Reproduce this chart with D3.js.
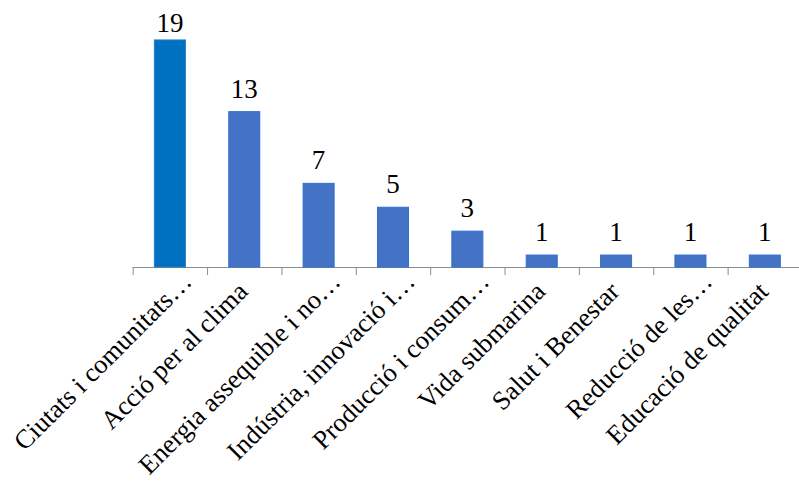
<!DOCTYPE html>
<html>
<head>
<meta charset="utf-8">
<script src="https://cdn.jsdelivr.net/npm/d3@7"></script>
</head>
<body style="margin:0">
<svg id="chart" width="799" height="483"></svg>
<script>
const categories = [
  "Ciutats i comunitats…",
  "Acció per al clima",
  "Energia assequible i no…",
  "Indústria, innovació i…",
  "Producció i consum…",
  "Vida submarina",
  "Salut i Benestar",
  "Reducció de les…",
  "Educació de qualitat"
];
const values = [19, 13, 7, 5, 3, 1, 1, 1, 1];
const barColors = ["#0070C0", "#4472C4", "#4472C4", "#4472C4", "#4472C4", "#4472C4", "#4472C4", "#4472C4", "#4472C4"];
const strokeColors = ["#1A7FCC", "#2F6FD6", "#2F6FD6", "#2F6FD6", "#2F6FD6", "#2F6FD6", "#2F6FD6", "#2F6FD6", "#2F6FD6"];
const yMax = 20;

const svg = d3.select("#chart");

const x0 = 132.7, x1 = 802, yBase = 267, yTop = 28;

const x = d3.scaleBand()
  .domain(categories)
  .range([x0, x1])
  .paddingInner(0.583)
  .paddingOuter(0.2915);

const y = d3.scaleLinear().domain([0, yMax]).range([yBase, yTop]);

const xb = d3.scaleLinear().domain([0, categories.length]).range([x0, x1]);
const axis = svg.append("g")
  .attr("transform", `translate(0,${yBase})`)
  .call(d3.axisBottom(xb)
    .tickValues(d3.range(0, categories.length + 1))
    .tickFormat("")
    .tickSizeInner(8)
    .tickSizeOuter(0));
axis.selectAll("path, line").attr("stroke", "#8c8c8c").attr("stroke-width", 1);
axis.select("path.domain").attr("d", `M${x0},0.5H${x1}`);

svg.append("g").selectAll("rect")
  .data(values)
  .join("rect")
  .attr("x", (d, i) => x(categories[i]))
  .attr("y", d => y(d))
  .attr("width", x.bandwidth())
  .attr("height", d => yBase - y(d))
  .attr("fill", (d, i) => barColors[i])
  .attr("stroke", (d, i) => strokeColors[i])
  .attr("stroke-width", 1);

svg.append("g").selectAll("text")
  .data(values)
  .join("text")
  .attr("x", (d, i) => x(categories[i]) + x.bandwidth() / 2)
  .attr("y", d => Math.max(y(d) - 14, 32))
  .attr("text-anchor", "middle")
  .style("font-family", '"Liberation Serif"')
  .attr("font-size", 27)
  .attr("fill", "#000")
  .text(d => d);

svg.append("g").selectAll("text")
  .data(categories)
  .join("text")
  .attr("transform", d => `translate(${x(d) + x.bandwidth() / 2 + 5},${yBase + 26}) rotate(-45)`)
  .attr("dx", d => d.endsWith("…") ? 20 : 0)
  .attr("dy", d => d.endsWith("…") ? 6 : 0)
  .attr("text-anchor", "end")
  .style("font-family", '"Liberation Serif"')
  .attr("font-size", 26.5)
  .attr("fill", "#000")
  .text(d => d);
</script>
</body>
</html>
